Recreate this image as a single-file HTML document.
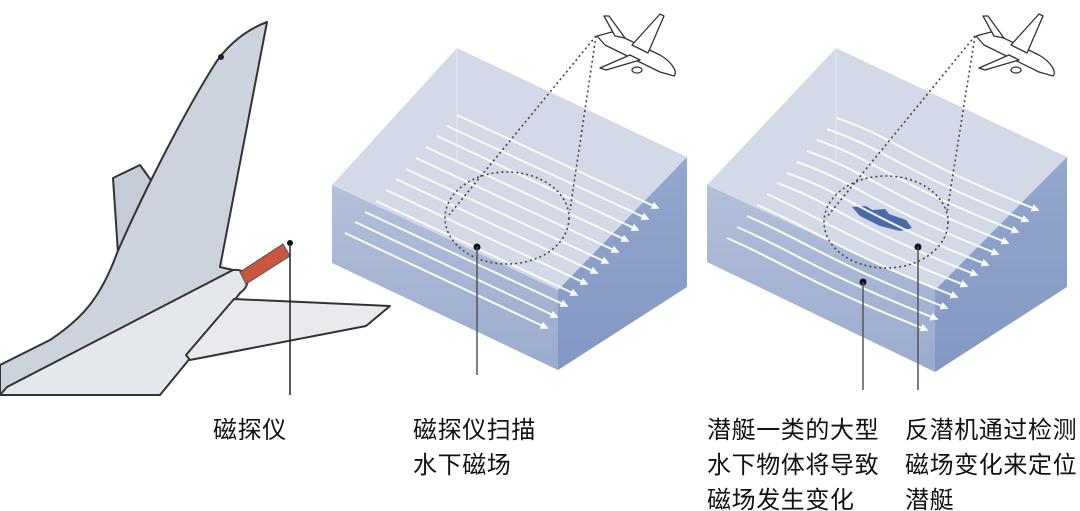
<!DOCTYPE html>
<html><head><meta charset="utf-8"><style>
html,body{margin:0;padding:0;background:#fff;width:1080px;height:511px;overflow:hidden}
svg{display:block}
text{font-family:"Liberation Sans","Noto Sans CJK SC",sans-serif;font-size:24px;fill:#111;letter-spacing:0.6px}
</style></head><body>
<svg width="1080" height="511" viewBox="0 0 1080 511" xmlns="http://www.w3.org/2000/svg">
<defs>
<marker id="ah" viewBox="0 0 10 10" refX="8" refY="5" markerWidth="4" markerHeight="4" orient="auto"><path d="M0,0 L10,5 L0,10 z" fill="#fff"/></marker>
<linearGradient id="gf" x1="0" y1="0" x2="0" y2="1"><stop offset="0" stop-color="#b4c0da"/><stop offset="1" stop-color="#9aabcd"/></linearGradient>
<linearGradient id="gr" x1="0" y1="0" x2="0" y2="1"><stop offset="0" stop-color="#94a7cc"/><stop offset="1" stop-color="#8298c3"/></linearGradient>
</defs>

<!-- Left big plane -->
<g stroke="#333" stroke-width="2" stroke-linejoin="round">
<polygon points="113,178 140,165 153,183 118,253" fill="#c5ccd8"/>
<path d="M0,395 L0,365 L50,340 C80,320 100,300 117,253 C140,200 180,120 213,67 C222,52 240,32 267,22 L220,267 L233,270 L40,395 Z" fill="#ccd3dd"/>
<path d="M0,395 L7,387 L233,270 C250,268 252,285 240,293 L205,340 L160,395 Z" fill="#e4e7ec"/>
<polygon points="186,355 234,299 390,306 366,326 190,360" fill="#e8eaee"/>
<path d="M240,272 L283,244 L290,256 L246,284 Z" fill="#c9553e" stroke="#555" stroke-width="1"/>
</g>
<circle cx="221" cy="57" r="3" fill="#222"/>
<circle cx="290" cy="243" r="3" fill="#111"/>
<line x1="290" y1="243" x2="290" y2="395" stroke="#222" stroke-width="1.5"/>

<!-- Box 1 -->
<polygon points="332,185 457,48 687,157 558,290" fill="#d3d9e7"/>
<polygon points="332,185 558,290 558,370 332,263" fill="url(#gf)"/>
<polygon points="558,290 687,157 687,287 558,370" fill="url(#gr)"/>
<line x1="457" y1="48" x2="457" y2="160" stroke="#e6eaf2" stroke-width="1"/>
<g stroke="#fff" stroke-width="2" marker-end="url(#ah)" fill="none" opacity="0.95">
<line x1="457" y1="115" x2="658" y2="208"/><line x1="447" y1="126" x2="648" y2="219"/>
<line x1="437" y1="136" x2="638" y2="230"/><line x1="426" y1="147" x2="628" y2="241"/>
<line x1="416" y1="158" x2="618" y2="252"/><line x1="406" y1="169" x2="608" y2="263"/>
<line x1="396" y1="179" x2="597" y2="273"/><line x1="386" y1="190" x2="587" y2="284"/>
<line x1="376" y1="201" x2="577" y2="295"/><line x1="365" y1="212" x2="567" y2="306"/>
<line x1="355" y1="222" x2="557" y2="317"/><line x1="345" y1="233" x2="547" y2="328"/>
</g>
<g stroke="#444" stroke-width="1.6" stroke-dasharray="2,3" fill="none">
<line x1="596" y1="36" x2="449" y2="215"/><line x1="596" y1="36" x2="570" y2="210"/>
<ellipse cx="507" cy="218" rx="62" ry="46"/>
</g>
<circle cx="477" cy="247" r="3.5" fill="#111"/>
<line x1="477" y1="247" x2="477" y2="375" stroke="#555" stroke-width="1.5"/>
<!-- small plane 1 -->
<g stroke="#333" stroke-width="1.3" fill="#fff" stroke-linejoin="round">
<path d="M597,36 L612,32 L660,55 C672,62 678,72 674,76 L660,72 L605,45 Z"/>
<path d="M615,36 L604,16 L609,16 L625,38 Z"/>
<path d="M632,45 L660,14 L664,16 L648,53 Z"/>
<path d="M630,55 L600,68 L606,70 L640,60 Z"/>
<ellipse cx="637" cy="70" rx="5" ry="3"/>
</g>

<!-- Box 2 -->
<polygon points="707,185 836,48 1067,157 935,290" fill="#d3d9e7"/>
<polygon points="707,185 935,290 935,372 707,262" fill="url(#gf)"/>
<polygon points="935,290 1067,157 1067,287 935,372" fill="url(#gr)"/>
<line x1="836" y1="48" x2="836" y2="160" stroke="#e6eaf2" stroke-width="1"/>
<path d="M852,207 L866,206 L872,210 L885,209 L889,214 L906,220 L912,228 L900,231 L880,226 L860,216 Z" fill="#4a6aa8"/>
<g stroke="#fff" stroke-width="2" marker-end="url(#ah)" fill="none" opacity="0.95">
<path d="M837,118 C900,140 910,160 1038,210"/>
<path d="M827,129 C890,151 900,171 1028,221"/>
<path d="M817,140 C880,162 890,182 1018,232"/>
<path d="M807,151 C870,173 880,193 1008,243"/>
<path d="M797,162 C860,184 870,204 998,254"/>
<path d="M787,173 C850,195 860,215 988,265"/>
<path d="M777,183 C840,206 850,226 977,275"/>
<path d="M767,194 C825,220 845,238 967,286"/>
<path d="M757,205 C815,230 835,249 957,297"/>
<path d="M747,216 C805,241 825,260 947,308"/>
<path d="M737,227 C795,252 815,271 937,319"/>
<path d="M727,238 C785,263 805,282 927,330"/>
</g>
<g stroke="#444" stroke-width="1.6" stroke-dasharray="2,3" fill="none">
<line x1="975" y1="36" x2="826" y2="218"/><line x1="975" y1="36" x2="947" y2="212"/>
<ellipse cx="886" cy="222" rx="62" ry="46"/>
</g>
<circle cx="918" cy="247" r="3.5" fill="#111"/>
<line x1="918" y1="247" x2="918" y2="390" stroke="#555" stroke-width="1.5"/>
<circle cx="863" cy="282" r="3.5" fill="#111"/>
<line x1="863" y1="282" x2="863" y2="390" stroke="#555" stroke-width="1.5"/>
<!-- small plane 2 -->
<g stroke="#333" stroke-width="1.3" fill="#fff" stroke-linejoin="round">
<path d="M976,36 L991,32 L1039,55 C1051,62 1057,72 1053,76 L1039,72 L984,45 Z"/>
<path d="M994,36 L983,16 L988,16 L1004,38 Z"/>
<path d="M1011,45 L1039,14 L1043,16 L1027,53 Z"/>
<path d="M1009,55 L979,68 L985,70 L1019,60 Z"/>
<ellipse cx="1016" cy="70" rx="5" ry="3"/>
</g>

<!-- Labels -->
<text x="213" y="438">磁探仪</text>
<text x="413" y="438">磁探仪扫描</text>
<text x="413" y="473">水下磁场</text>
<text x="707" y="438">潜艇一类的大型</text>
<text x="707" y="473">水下物体将导致</text>
<text x="707" y="508">磁场发生变化</text>
<text x="905" y="438">反潜机通过检测</text>
<text x="905" y="473">磁场变化来定位</text>
<text x="905" y="508">潜艇</text>
</svg>
</body></html>
